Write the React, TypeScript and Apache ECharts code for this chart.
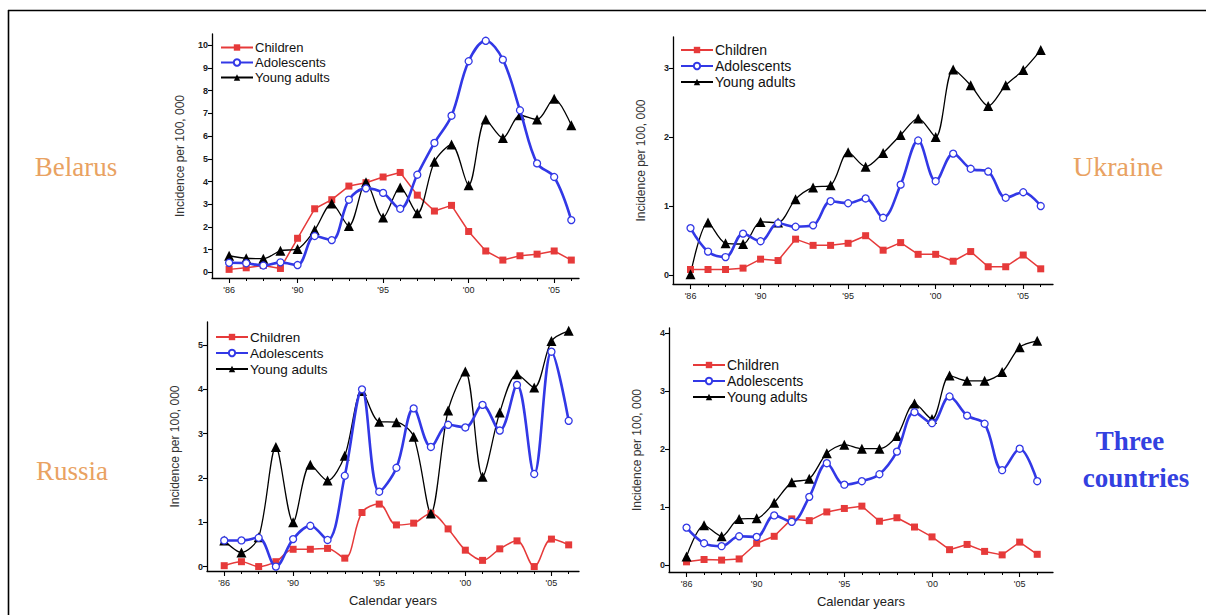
import React, { useEffect, useRef } from "react";
import * as echarts from "echarts";

const years = [1986, 1987, 1988, 1989, 1990, 1991, 1992, 1993, 1994, 1995, 1996, 1997, 1998, 1999, 2000, 2001, 2002, 2003, 2004, 2005, 2006];
const majorYears = [1986, 1990, 1995, 2000, 2005];
const seriesNames = ["Children", "Adolescents", "Young adults"];

const belarusChildren = [0.13, 0.2, 0.3, 0.17, 1.5, 2.8, 3.2, 3.8, 3.95, 4.2, 4.4, 3.4, 2.7, 2.95, 1.8, 0.94, 0.54, 0.73, 0.8, 0.94, 0.54];
const belarusAdolescents = [0.42, 0.4, 0.3, 0.44, 0.32, 1.6, 1.42, 3.2, 3.7, 3.5, 2.8, 4.3, 5.7, 6.9, 9.3, 10.2, 9.37, 7.14, 4.8, 4.2, 2.3];
const belarusYoungAdults = [0.73, 0.62, 0.6, 0.95, 1.03, 1.86, 3.03, 2.04, 3.97, 2.42, 3.74, 2.6, 4.87, 5.63, 3.84, 6.73, 5.92, 6.92, 6.73, 7.65, 6.48];

const ukraineChildren = [0.08, 0.08, 0.08, 0.1, 0.23, 0.21, 0.52, 0.43, 0.43, 0.46, 0.57, 0.36, 0.47, 0.3, 0.3, 0.2, 0.34, 0.12, 0.12, 0.29, 0.09];
const ukraineAdolescents = [0.68, 0.34, 0.26, 0.6, 0.49, 0.75, 0.7, 0.72, 1.07, 1.04, 1.11, 0.83, 1.31, 1.95, 1.36, 1.76, 1.54, 1.5, 1.12, 1.2, 1.0];
const ukraineYoungAdults = [0.01, 0.76, 0.46, 0.45, 0.77, 0.76, 1.1, 1.27, 1.3, 1.78, 1.57, 1.77, 2.03, 2.27, 2.0, 2.98, 2.75, 2.45, 2.75, 2.97, 3.26];

const russiaChildren = [0.02, 0.11, 0.0, 0.11, 0.39, 0.39, 0.41, 0.19, 1.22, 1.41, 0.94, 0.98, 1.2, 0.85, 0.37, 0.14, 0.4, 0.58, 0.0, 0.62, 0.49];
const russiaAdolescents = [0.59, 0.59, 0.65, 0.0, 0.62, 0.92, 0.6, 2.05, 4.0, 1.69, 2.23, 3.57, 2.7, 3.2, 3.14, 3.65, 3.07, 4.1, 2.09, 4.85, 3.29];
const russiaYoungAdults = [0.59, 0.32, 0.66, 2.7, 1.0, 2.3, 1.94, 2.5, 3.96, 3.27, 3.26, 2.93, 1.2, 3.52, 4.4, 2.03, 3.48, 4.34, 4.04, 5.09, 5.32];

const threeChildren = [0.06, 0.1, 0.09, 0.11, 0.38, 0.5, 0.8, 0.77, 0.92, 0.98, 1.02, 0.76, 0.82, 0.66, 0.49, 0.27, 0.36, 0.24, 0.18, 0.4, 0.19];
const threeAdolescents = [0.65, 0.38, 0.33, 0.5, 0.49, 0.86, 0.75, 1.18, 1.76, 1.39, 1.45, 1.57, 1.96, 2.64, 2.45, 2.91, 2.58, 2.44, 1.64, 2.01, 1.45];
const threeYoungAdults = [0.15, 0.69, 0.5, 0.8, 0.81, 1.08, 1.43, 1.49, 1.93, 2.08, 2.01, 2.01, 2.23, 2.79, 2.52, 3.27, 3.18, 3.18, 3.33, 3.76, 3.87];

const belarusTicks = [0, 1, 2, 3, 4, 5, 6, 7, 8, 9, 10];
const ukraineTicks = [0, 1, 2, 3];
const russiaTicks = [0, 1, 2, 3, 4, 5];
const threeTicks = [0, 1, 2, 3, 4];

const RED = "#e63a3a";
const BLUE = "#3238e6";
const BLACK = "#000000";
const SANS = "'Liberation Sans', Arial, sans-serif";
const SERIF = "'Liberation Serif', 'Times New Roman', serif";

const panels = [
  {
    data: [belarusChildren, belarusAdolescents, belarusYoungAdults],
    ticks: belarusTicks, ymin: -0.25, ymax: 10.5, xmax: 2006.45,
    grid: { left: 212, top: 34, width: 367, height: 244 },
    legend: { left: 220, top: 41, font: 13 }, xName: false, redSmooth: false,
  },
  {
    data: [ukraineChildren, ukraineAdolescents, ukraineYoungAdults],
    ticks: ukraineTicks, ymin: -0.13, ymax: 3.45, xmax: 2006.7,
    grid: { left: 673, top: 37, width: 380, height: 247 },
    legend: { left: 680, top: 43, font: 14 }, xName: false, redSmooth: false,
  },
  {
    data: [russiaChildren, russiaAdolescents, russiaYoungAdults],
    ticks: russiaTicks, ymin: -0.1, ymax: 5.52, xmax: 2006.6,
    grid: { left: 207, top: 322, width: 372, height: 249 },
    legend: { left: 215, top: 330, font: 13.5 }, xName: true, redSmooth: true,
  },
  {
    data: [threeChildren, threeAdolescents, threeYoungAdults],
    ticks: threeTicks, ymin: -0.115, ymax: 4.09, xmax: 2006.9,
    grid: { left: 669, top: 328, width: 384, height: 244 },
    legend: { left: 692, top: 358, font: 14 }, xName: true, redSmooth: false,
  },
];

function buildOption() {
  const grids: any[] = [];
  const xAxes: any[] = [];
  const yAxes: any[] = [];
  const series: any[] = [];
  const legends: any[] = [];

  panels.forEach((p, i) => {
    grids.push({ ...p.grid, containLabel: false, outerBoundsMode: "none" });
    xAxes.push({
      type: "value", gridIndex: i, min: 1985, max: p.xmax, position: "bottom",
      axisLine: { show: true, onZero: false, lineStyle: { color: "#000", width: 1.3 } },
      splitLine: { show: false },
      axisTick: { show: true, customValues: majorYears, length: 5, lineStyle: { color: "#000", width: 1.1 } },
      axisLabel: {
        customValues: majorYears, fontSize: 9, color: "#222", margin: 7, fontFamily: SANS,
        formatter: (v: number) => "'" + String(v % 100).padStart(2, "0"),
      },
      name: p.xName ? "Calendar years" : "", nameLocation: "middle", nameGap: 23,
      nameTextStyle: { fontSize: 13, color: "#222", fontFamily: SANS },
    });
    xAxes.push({
      type: "value", gridIndex: i, min: 1985, max: p.xmax, position: "bottom",
      axisLine: { show: false, onZero: false },
      splitLine: { show: false },
      axisTick: { show: true, customValues: years, length: 3, lineStyle: { color: "#000", width: 1 } },
      axisLabel: { show: false },
    });
    yAxes.push({
      type: "value", gridIndex: i, min: p.ymin, max: p.ymax,
      axisLine: { show: true, onZero: false, lineStyle: { color: "#000", width: 1.3 } },
      axisTick: { show: true, customValues: p.ticks, length: 4, lineStyle: { color: "#000", width: 1.1 } },
      axisLabel: { customValues: p.ticks, fontSize: 9, fontWeight: "bold", color: "#222", margin: 4, fontFamily: SANS },
      splitLine: { show: false },
      name: "Incidence per 100, 000", nameLocation: "middle", nameGap: 26, nameRotate: 90,
      nameTextStyle: { fontSize: 12, color: "#333", fontFamily: SANS },
    });

    const styles = [
      { color: RED, fill: RED, symbol: "rect", size: 7, width: 1.5, smooth: p.redSmooth ? 0.35 : 0 },
      { color: BLUE, fill: "#ffffff", symbol: "circle", size: 7, width: 2.6, smooth: 0.35 },
      { color: BLACK, fill: BLACK, symbol: "triangle", size: 10, width: 1.3, smooth: 0.3 },
    ];
    p.data.forEach((vals, k) => {
      const s = styles[k];
      series.push({
        type: "line", name: seriesNames[k], xAxisIndex: 2 * i, yAxisIndex: i,
        data: years.map((y, j) => [y, vals[j]]),
        symbol: s.symbol, symbolSize: s.size, showSymbol: true, smooth: s.smooth,
        lineStyle: { color: s.color, width: s.width },
        itemStyle: { color: s.fill, borderColor: s.color, borderWidth: k === 1 ? 1.3 : 0 },
        z: k === 1 ? 3 : 2,
      });
    });

    legends.push({
      data: seriesNames, orient: "vertical", left: p.legend.left, top: p.legend.top,
      itemWidth: 32, itemHeight: 8, itemGap: 2, padding: 0, selectedMode: false,
      textStyle: { fontSize: p.legend.font, color: "#111", fontFamily: SANS, padding: [0, 0, 0, -3] },
    });
  });

  const label = (text: string, x: number, y: number, fill: string, size: number, weight: string) => ({
    type: "text", x, y,
    style: {
      text, fill, fontSize: size, fontFamily: SERIF, fontWeight: weight,
      align: "center", verticalAlign: "middle", textAlign: "center", textVerticalAlign: "middle",
    },
  });

  return {
    animation: false,
    backgroundColor: "#ffffff",
    textStyle: { fontFamily: SANS },
    grid: grids,
    xAxis: xAxes,
    yAxis: yAxes,
    series,
    legend: legends,
    graphic: [
      { type: "line", shape: { x1: 8, y1: 10.5, x2: 1206, y2: 10.5 }, style: { stroke: "#000", lineWidth: 1.6 } },
      { type: "line", shape: { x1: 8.5, y1: 10, x2: 8.5, y2: 615 }, style: { stroke: "#000", lineWidth: 1.6 } },
      label("Belarus", 76, 167, "#e9a262", 27, "normal"),
      label("Ukraine", 1118, 166, "#e9a262", 28, "normal"),
      label("Russia", 72, 471, "#e9a262", 27, "normal"),
      label("Three", 1130, 441, "#3340e0", 27, "bold"),
      label("countries", 1136, 478, "#3340e0", 27, "bold"),
    ],
  };
}

export default function App() {
  const ref = useRef<HTMLDivElement>(null);
  useEffect(() => {
    if (!ref.current) return;
    const chart = echarts.init(ref.current, null, { renderer: "svg" });
    chart.setOption(buildOption() as any);
    return () => chart.dispose();
  }, []);
  return (
    <div
      ref={ref}
      style={{ position: "absolute", left: 0, top: 0, width: 1206, height: 615, background: "#fff" }}
    />
  );
}
